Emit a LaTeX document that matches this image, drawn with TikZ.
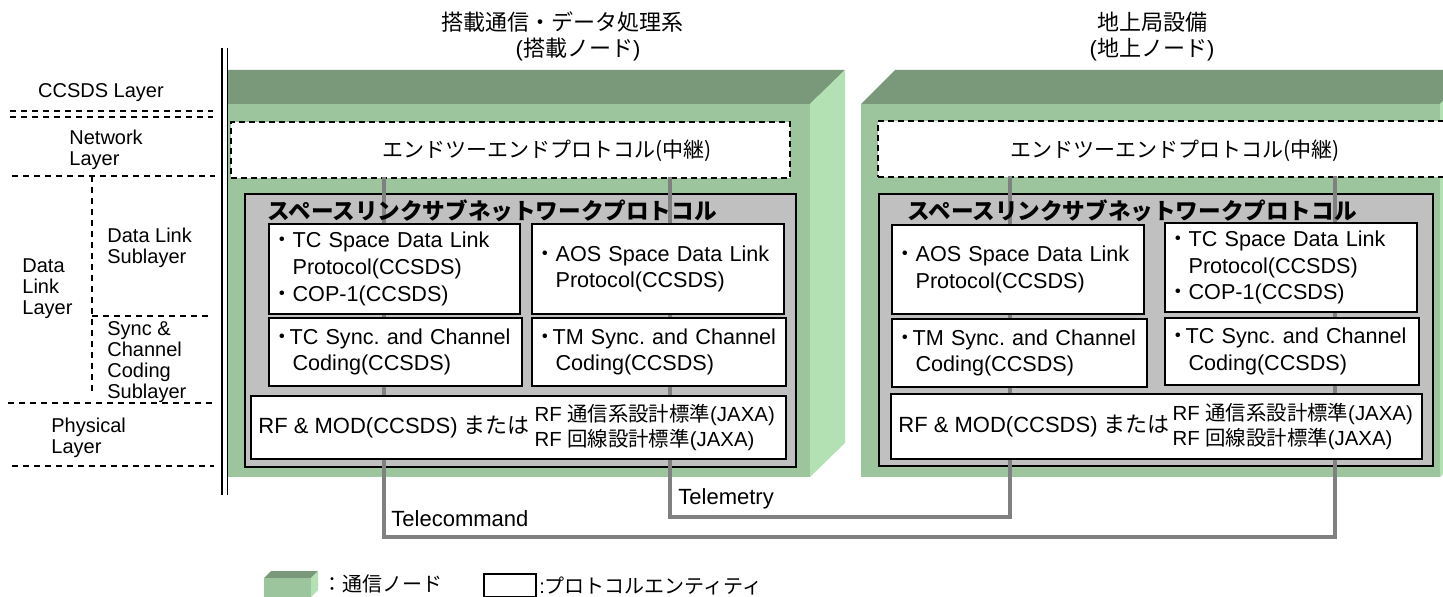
\documentclass[tikz,border=0pt]{standalone}
\usepackage[]{xcolor}
\usepackage{fontspec}
\setmainfont{Liberation Sans}
\newfontfamily\jp{Noto Sans CJK JP}
\frenchspacing
\definecolor{topgreen}{RGB}{122,153,122}
\definecolor{frontgreen}{RGB}{157,197,157}
\definecolor{sidegreen}{RGB}{180,225,180}
\definecolor{subnetgray}{RGB}{192,192,192}
\definecolor{linkgray}{RGB}{128,128,128}

\begin{document}
\begin{tikzpicture}[
            x=0.5pt, y=-0.5pt,
            topface/.style={fill=topgreen},
            frontface/.style={fill=frontgreen},
            sideface/.style={fill=sidegreen},
            netbox/.style={rectangle, draw, dash pattern=on 3pt off 2pt, line width=1pt, fill=white, inner sep=0pt, anchor=north west},
            subnet/.style={rectangle, draw, line width=1pt, fill=subnetgray, inner sep=0pt, anchor=north west},
            protobox/.style={rectangle, draw, line width=1pt, fill=white, inner xsep=1pt, inner ysep=0pt, anchor=north west, align=left, font=\fontsize{10.8}{13.3}\selectfont},
            link/.style={draw=linkgray, line width=2pt},
            layerline/.style={dash pattern=on 3pt off 2.5pt, line width=1pt},
            layerlbl/.style={anchor=west, align=left, inner sep=0pt, font=\fontsize{10}{10.5}\selectfont},
            lbl/.style={inner sep=0pt, font=\fontsize{11}{13}\selectfont},
            jplbl/.style={inner sep=0pt, font=\jp\fontsize{11}{13}\selectfont}
        ]
            \path[use as bounding box] (0,0) rectangle (1443,597);
            \clip (0,0) rectangle (1443,597);

            % onboard node (cube)
            \fill[topface] (228,70) -- (845,70) -- (810,104) -- (228,104) -- cycle;
            \fill[sideface] (810,104) -- (845,70) -- (845,443) -- (810,477) -- cycle;
            \fill[frontface] (228,104) rectangle (810,477);
            % ground node (cube)
            \fill[topface] (861,104) -- (895,70) -- (1475,70) -- (1440,104) -- cycle;
            \fill[sideface] (1440,104) -- (1475,70) -- (1475,443) -- (1440,477) -- cycle;
            \fill[frontface] (861,104) rectangle (1440,477);

            \node[jplbl] (obTitle) at (562,22) {搭載通信・データ処理系};
            \node[lbl] (obSub) at (578,50) {({\jp 搭載ノード})};
            \node[jplbl] (gsTitle) at (1152,22) {地上局設備};
            \node[lbl] (gsSub) at (1152,50) {({\jp 地上ノード})};

            % end-to-end protocol
            \node[netbox, minimum width=279.5pt, minimum height=28pt] (netL) at (230,121) {};
            \node[netbox, minimum width=300pt, minimum height=28pt] (netR) at (877,120) {};
            \node[jplbl, font=\jp\fontsize{10.5}{13}\selectfont] (netLtxt) at (547,151) {エンドツーエンドプロトコル(中継)};
            \node[jplbl, font=\jp\fontsize{10.5}{13}\selectfont] (netRtxt) at (1175,151) {エンドツーエンドプロトコル(中継)};

            % space link subnet
            \node[subnet, minimum width=275.5pt, minimum height=136.5pt] (subL) at (244,193) {};
            \node[subnet, minimum width=277pt, minimum height=136pt] (subR) at (878,193) {};

            % links
            \coordinate (tcL) at (384,177);
            \coordinate (tmL) at (670,177);
            \coordinate (tmR) at (1010,176);
            \coordinate (tcR) at (1335,176);
            \draw[link] (tcL) -- ++(0,360) -| (tcR);
            \draw[link] (tmL) -- ++(0,340) -| (tmR);
            \node[lbl, anchor=west] (tcLbl) at (391,519) {Telecommand};
            \node[lbl, anchor=west] (tmLbl) at (678,499) {Telemetry};

            \node[jplbl, anchor=west, font=\jp\bfseries\fontsize{11.3}{13}\selectfont] (subLtxt) at (267,211) {スペースリンクサブネットワークプロトコル};
            \node[jplbl, anchor=west, font=\jp\bfseries\fontsize{11.3}{13}\selectfont] (subRtxt) at (907,211) {スペースリンクサブネットワークプロトコル};

            % onboard entities
            \node[protobox, text width=123.5pt, minimum height=45pt] (tcdlL) at (268,223) {\mbox{{\jp ・}TC Space Data Link}\\\mbox{\hspace*{1em}Protocol(CCSDS)}\\\mbox{{\jp ・}COP-1(CCSDS)}};
            \node[protobox, text width=124pt, minimum height=45pt] (aosL) at (531,223) {\mbox{{\jp ・}AOS Space Data Link}\\\mbox{\hspace*{1em}Protocol(CCSDS)}};
            \node[protobox, text width=124.5pt, minimum height=34pt] (tcscL) at (268,317) {\mbox{{\jp ・}\kern-1.5pt TC Sync. and Channel}\\\mbox{\hspace*{1em}Coding(CCSDS)}};
            \node[protobox, text width=125pt, minimum height=34pt] (tmscL) at (531,317) {\mbox{{\jp ・}\kern-1.5pt TM Sync. and Channel}\\\mbox{\hspace*{1em}Coding(CCSDS)}};
            \node[protobox, minimum width=267.5pt, minimum height=31.5pt] (rfL) at (250,395) {};
            \node[lbl, anchor=west] (rfLa) at ([xshift=4pt]rfL.west) {RF \& MOD(CCSDS) {\jp または}};
            \node[lbl, anchor=west, align=left, font=\fontsize{10.2}{12.5}\selectfont] (rfLb) at ([xshift=2pt]rfLa.east) {RF {\jp 通信系設計標準}(JAXA)\\RF {\jp 回線設計標準}(JAXA)};

            % ground entities
            \node[protobox, text width=124pt, minimum height=44.5pt] (aosR) at (891,224) {\mbox{{\jp ・}AOS Space Data Link}\\\mbox{\hspace*{1em}Protocol(CCSDS)}};
            \node[protobox, text width=124pt, minimum height=44.5pt] (tcdlR) at (1164,222) {\mbox{{\jp ・}TC Space Data Link}\\\mbox{\hspace*{1em}Protocol(CCSDS)}\\\mbox{{\jp ・}COP-1(CCSDS)}};
            \node[protobox, text width=125.5pt, minimum height=34pt] (tmscR) at (891,318) {\mbox{{\jp ・}\kern-1.5pt TM Sync. and Channel}\\\mbox{\hspace*{1em}Coding(CCSDS)}};
            \node[protobox, text width=125pt, minimum height=33.5pt] (tcscR) at (1164,317) {\mbox{{\jp ・}\kern-1.5pt TC Sync. and Channel}\\\mbox{\hspace*{1em}Coding(CCSDS)}};
            \node[protobox, minimum width=265.5pt, minimum height=32.5pt] (rfR) at (890,393) {};
            \node[lbl, anchor=west] (rfRa) at ([xshift=4pt]rfR.west) {RF \& MOD(CCSDS) {\jp または}};
            \node[lbl, anchor=west, align=left, font=\fontsize{10.2}{12.5}\selectfont] (rfRb) at ([xshift=1pt]rfRa.east) {RF {\jp 通信系設計標準}(JAXA)\\RF {\jp 回線設計標準}(JAXA)};

            % layer column
            \draw[double, line width=0.8pt, double distance=2pt] (224.5,48) -- (224.5,495);
            \draw[layerline] (10,111) -- (213,111);
            \draw[layerline] (10,117) -- (213,117);
            \draw[layerline] (12,176) -- (215,176);
            \draw[layerline] (92,176) -- (92,393);
            \draw[layerline] (92,316) -- (212,316);
            \draw[layerline] (8,403) -- (212,403);
            \draw[layerline] (12,466) -- (214,466);
            \node[lbl, font=\fontsize{10}{10.5}\selectfont] (ccsdsLay) at (101,93) {CCSDS Layer};
            \node[layerlbl] (netLay) at (69,150) {Network\\Layer};
            \node[layerlbl] (dlLay) at (22,289) {Data\\Link\\Layer};
            \node[layerlbl] (dlSub) at (107,247.5) {Data Link\\Sublayer};
            \node[layerlbl] (syncSub) at (107,362) {Sync \&\\Channel\\Coding\\Sublayer};
            \node[layerlbl] (phyLay) at (51,437.5) {Physical\\Layer};

            % legend
            \fill[topface] (264,578) -- (271,571) -- (318,571) -- (311,578) -- cycle;
            \fill[sideface] (311,578) -- (318,571) -- (318,590) -- (311,597) -- cycle;
            \fill[frontface] (264,578) rectangle (311,597);
            \node[jplbl, anchor=west, font=\jp\fontsize{10}{12}\selectfont] (legNode) at (322,584) {：通信ノード};
            \node[draw, line width=1pt, minimum width=26pt, minimum height=11.5pt, inner sep=0pt, anchor=north west] (legBox) at (483,573) {};
            \node[lbl, anchor=west, font=\fontsize{10}{12}\selectfont] (legProto) at ([xshift=1pt]legBox.east) {:{\jp プロトコルエンティティ}};
        \end{tikzpicture}
\end{document}
